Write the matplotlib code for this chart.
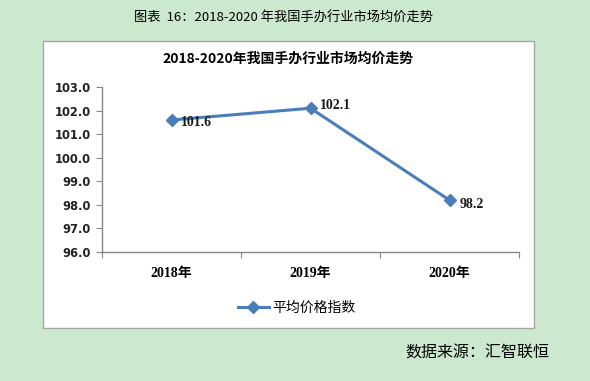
import matplotlib.pyplot as plt
from matplotlib.patches import Rectangle

plt.rcParams['font.family'] = ['Noto Sans CJK SC', 'DejaVu Sans']

years = ["2018年", "2019年", "2020年"]
price_index = [101.6, 102.1, 98.2]
y_ticks = [96.0, 97.0, 98.0, 99.0, 100.0, 101.0, 102.0, 103.0]

fig = plt.figure(figsize=(5.9, 3.81), dpi=100)
fig.patch.set_facecolor('#cce8cf')

# white chart box
fig.patches.append(Rectangle((43 / 590, 1 - 328 / 381), (534 - 43) / 590, (328 - 41) / 381,
                             transform=fig.transFigure, facecolor='white',
                             edgecolor='#a6a6a6', linewidth=1.0, zorder=-1))

ax = fig.add_axes([102 / 590, 1 - 252 / 381, (519 - 102) / 590, (252 - 87) / 381])
ax.set_zorder(1)
ax.set_facecolor('white')

x = [i + 0.5 for i in range(len(years))]
line, = ax.plot(x, price_index, color='#4a7ebb', linewidth=2.2, marker='D',
                markersize=6, markerfacecolor='#4a7ebb', markeredgecolor='#4a7ebb',
                label='平均价格指数')

offsets = [(7, -2), (7, 2), (7, -3)]
for xi, v, off in zip(x, price_index, offsets):
    ax.annotate(f"{v:.1f}", (xi, v), xytext=off, textcoords='offset points',
                ha='left', va='center', fontsize=10, fontweight='bold',
                family='Liberation Serif', color='#1a1a1a')

ax.set_xlim(0, 3)
ax.set_ylim(96, 103)
ax.set_yticks(y_ticks)
ax.set_yticklabels([f"{t:.1f}" for t in y_ticks], fontsize=8.3, fontweight='bold',
                   family='DejaVu Sans', color='#222222')
ax.set_xticks([0, 1, 2, 3])
ax.set_xticklabels([])
ax.set_xticks(x, minor=True)
ax.set_xticklabels(years, minor=True, fontsize=10, fontweight='bold',
                   family=['Liberation Serif', 'Noto Sans CJK SC'])
ax.tick_params(axis='x', which='minor', length=0, pad=11)
ax.tick_params(axis='x', which='major', length=4, color='#868686', direction='out')
ax.tick_params(axis='y', length=4, color='#868686', direction='out', pad=4)

for s in ['top', 'right']:
    ax.spines[s].set_visible(False)
for s in ['left', 'bottom']:
    ax.spines[s].set_color('#868686')
    ax.spines[s].set_linewidth(1.0)

fig.text(288 / 590, 1 - 59 / 381, "2018-2020年我国手办行业市场均价走势", ha='center',
         va='center', fontsize=10, fontweight='bold')
fig.text(283 / 590, 1 - 18 / 381, "图表  16：2018-2020 年我国手办行业市场均价走势",
         ha='center', va='center', fontsize=9.5)
fig.text(405 / 590, 1 - 353 / 381, "数据来源：汇智联恒", ha='left', va='center',
         fontsize=11.5)

fig.legend(handles=[line], loc='center', bbox_to_anchor=(297 / 590, 1 - 308 / 381),
           frameon=False, fontsize=10, handlelength=2.2, handletextpad=0.3)

fig.savefig('out.png', dpi=100, facecolor=fig.get_facecolor())
